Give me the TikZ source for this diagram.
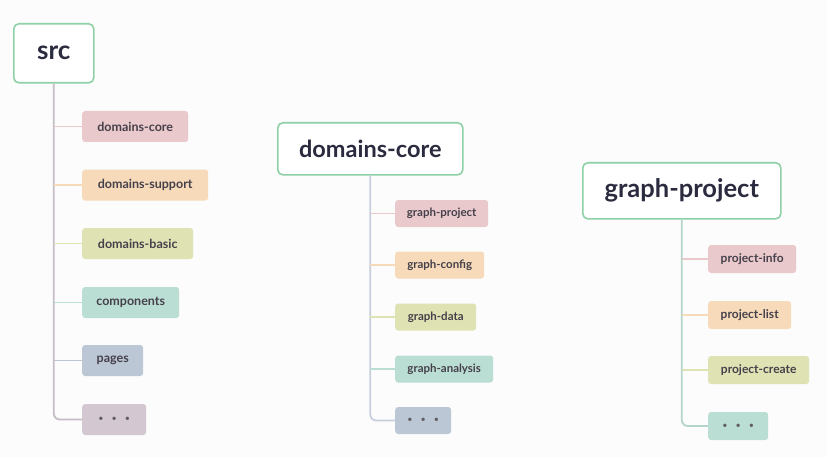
\documentclass[tikz,border=0pt]{standalone}
\usepackage{fontspec}
\setmainfont{Lato}
\definecolor{txt}{HTML}{2B2B40}
\definecolor{itxt}{HTML}{45404A}
\definecolor{hdr}{HTML}{8FD0A6}
\definecolor{cpink}{HTML}{E9C9CC}
\definecolor{corange}{HTML}{F6DAB9}
\definecolor{colive}{HTML}{DFE3B4}
\definecolor{cteal}{HTML}{BBDED4}
\definecolor{cblue}{HTML}{BCC7D5}
\definecolor{cmauve}{HTML}{D3C8D2}
\newcommand{\tdots}{\textbullet\hspace{8pt}\textbullet\hspace{8pt}\textbullet}
\begin{document}
\begin{tikzpicture}[x=1pt,y=-1pt,
  head/.style={draw=hdr,line width=1.6pt,rounded corners=5pt,fill=white,text=txt,inner sep=0pt,anchor=north west},
  item/.style={rounded corners=3pt,text=itxt,inner sep=0pt,anchor=west,align=center},
  afont/.style={font=\bfseries\fontsize{12.5}{14}\selectfont},
  bfont/.style={font=\bfseries\fontsize{11.5}{13}\selectfont},
  cfont/.style={font=\bfseries\fontsize{12}{14}\selectfont},
  dotsfont/.style={font=\fontsize{9}{10}\selectfont,text=itxt!85!white},
  trunk/.style={line width=1.8pt,rounded corners=6pt},
  branch/.style={line width=1.5pt}]
\useasboundingbox (0,0) rectangle (826,457);
\fill[white!98!gray] (0,0) rectangle (826,457);
% ---------- src ----------
\node[head,minimum width=80pt,minimum height=59pt,font=\bfseries\fontsize{26}{30}\selectfont] (src) at (13,23) {src};
\node[item,afont,fill=cpink,minimum width=106pt,minimum height=31pt] (a1) at (82,126.5) {domains-core};
\node[item,afont,fill=corange,minimum width=126pt,minimum height=31pt] (a2) at (82,185) {domains-support};
\node[item,afont,fill=colive,minimum width=111pt,minimum height=31pt] (a3) at (82,243.5) {domains-basic};
\node[item,afont,fill=cteal,minimum width=97pt,minimum height=31pt] (a4) at (82,302.5) {components};
\node[item,afont,fill=cblue,minimum width=61pt,minimum height=31pt] (a5) at (82,360.5) {pages};
\node[item,dotsfont,fill=cmauve,minimum width=64pt,minimum height=31pt] (a6) at (82,419.5) {\tdots};
\draw[trunk,cmauve!85!gray] (src.south) |- (a6.west);
\foreach \n/\c in {a1/cpink,a2/corange,a3/colive,a4/cteal,a5/cblue}
  \draw[branch,\c] (src.south |- \n.west) -- (\n.west);
% ---------- domains-core ----------
\node[head,minimum width=185pt,minimum height=52pt,font=\bfseries\fontsize{23.5}{27}\selectfont] (dc) at (277,122) {domains-core};
\node[item,bfont,fill=cpink,minimum width=93pt,minimum height=27pt] (b1) at (395,213.5) {graph-project};
\node[item,bfont,fill=corange,minimum width=89pt,minimum height=27pt] (b2) at (395,265) {graph-config};
\node[item,bfont,fill=colive,minimum width=81pt,minimum height=27pt] (b3) at (395,317) {graph-data};
\node[item,bfont,fill=cteal,minimum width=98pt,minimum height=27pt] (b4) at (395,369) {graph-analysis};
\node[item,dotsfont,fill=cblue,minimum width=56pt,minimum height=27pt] (b5) at (395,420.5) {\tdots};
\draw[trunk,cblue!85!white] (dc.south) |- (b5.west);
\foreach \n/\c in {b1/cpink,b2/corange,b3/colive,b4/cteal}
  \draw[branch,\c] (dc.south |- \n.west) -- (\n.west);
% ---------- graph-project ----------
\node[head,minimum width=198pt,minimum height=56pt,font=\bfseries\fontsize{25.5}{29}\selectfont] (gp) at (582,162) {graph-project};
\node[item,cfont,fill=cpink,minimum width=88pt,minimum height=28pt] (c1) at (708,259) {project-info};
\node[item,cfont,fill=corange,minimum width=83pt,minimum height=28pt] (c2) at (708,315) {project-list};
\node[item,cfont,fill=colive,minimum width=101pt,minimum height=28pt] (c3) at (708,370) {project-create};
\node[item,dotsfont,fill=cteal,minimum width=60pt,minimum height=28pt] (c4) at (708,426) {\tdots};
\draw[trunk,cteal!90!gray] (gp.south) |- (c4.west);
\foreach \n/\c in {c1/cpink,c2/corange,c3/colive}
  \draw[branch,\c] (gp.south |- \n.west) -- (\n.west);
\end{tikzpicture}
\end{document}
